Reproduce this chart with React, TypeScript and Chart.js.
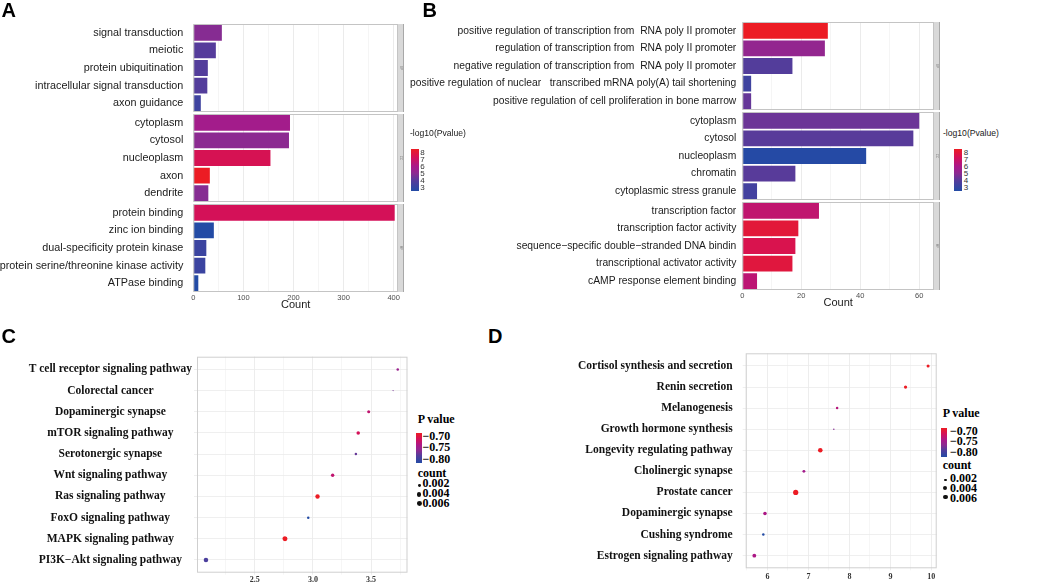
import React, { useEffect, useRef } from "react";
import { Chart, registerables } from "chart.js";
Chart.register(...registerables);

const SANS = "'Liberation Sans', Arial, Helvetica, sans-serif";
const SERIF = "'Liberation Serif', 'Times New Roman', Times, serif";

// ---------------- Panel A data ----------------
const aBPTerms = ["signal transduction", "meiotic", "protein ubiquitination", "intracellular signal transduction", "axon guidance"];
const aBPCounts = [57, 45, 29, 28, 15];
const aBPLogP = [5.0, 4.25, 4.2, 4.2, 3.7];
const aCCTerms = ["cytoplasm", "cytosol", "nucleoplasm", "axon", "dendrite"];
const aCCCounts = [193, 191, 154, 33, 30];
const aCCLogP = [5.75, 5.1, 7.1, 8.0, 5.0];
const aMFTerms = ["protein binding", "zinc ion binding", "dual-specificity protein kinase", "protein serine/threonine kinase activity", "ATPase binding"];
const aMFCounts = [402, 41, 26, 24, 10];
const aMFLogP = [7.0, 3.0, 3.6, 3.6, 3.0];
const aCountTicks = [0, 100, 200, 300, 400];

// ---------------- Panel B data ----------------
const bBPTerms = [
  "positive regulation of transcription from  RNA poly II promoter",
  "regulation of transcription from  RNA poly II promoter",
  "negative regulation of transcription from  RNA poly II promoter",
  "positive regulation of nuclear   transcribed mRNA poly(A) tail shortening",
  "positive regulation of cell proliferation in bone marrow",
];
const bBPCounts = [29, 28, 17, 3, 3];
const bBPLogP = [8.0, 5.3, 4.2, 3.7, 4.5];
const bCCTerms = ["cytoplasm", "cytosol", "nucleoplasm", "chromatin", "cytoplasmic stress granule"];
const bCCCounts = [60, 58, 42, 18, 5];
const bCCLogP = [4.6, 4.3, 3.05, 4.3, 3.8];
const bMFTerms = [
  "transcription factor",
  "transcription factor activity",
  "sequence\u2212specific double\u2212stranded DNA bindin",
  "transcriptional activator activity",
  "cAMP response element binding",
];
const bMFCounts = [26, 19, 18, 17, 5];
const bMFLogP = [6.5, 7.6, 7.2, 7.5, 6.4];
const bCountTicks = [0, 20, 40, 60];

// ---------------- Panel C data ----------------
const cTerms = [
  "T cell receptor signaling pathway",
  "Colorectal cancer",
  "Dopaminergic synapse",
  "mTOR signaling pathway",
  "Serotonergic synapse",
  "Wnt signaling pathway",
  "Ras signaling pathway",
  "FoxO signaling pathway",
  "MAPK signaling pathway",
  "PI3K\u2212Akt signaling pathway",
];
const cX = [3.73, 3.69, 3.48, 3.39, 3.37, 3.17, 3.04, 2.96, 2.76, 2.08];
const cP = [-0.75, -0.765, -0.73, -0.72, -0.77, -0.73, -0.7, -0.8, -0.7, -0.78];
const cCount = [0.0015, 0.0003, 0.0022, 0.003, 0.0015, 0.0028, 0.0047, 0.0015, 0.006, 0.005];
const cXTicks = [2.5, 3.0, 3.5];
const cXMinor = [2.25, 2.75, 3.25, 3.75];

// ---------------- Panel D data ----------------
const dTerms = [
  "Cortisol synthesis and secretion",
  "Renin secretion",
  "Melanogenesis",
  "Growth hormone synthesis",
  "Longevity regulating pathway",
  "Cholinergic synapse",
  "Prostate cancer",
  "Dopaminergic synapse",
  "Cushing syndrome",
  "Estrogen signaling pathway",
];
const dX = [9.92, 9.37, 7.7, 7.62, 7.29, 6.89, 6.69, 5.94, 5.9, 5.68];
const dP = [-0.7, -0.7, -0.735, -0.76, -0.7, -0.745, -0.7, -0.74, -0.8, -0.74];
const dCount = [0.0022, 0.0025, 0.0015, 0.0005, 0.005, 0.002, 0.0065, 0.003, 0.0015, 0.0035];
const dXTicks = [6, 7, 8, 9, 10];
const dXMinor = [5.5, 6.5, 7.5, 8.5, 9.5];

// ---------------- Legend data ----------------
const logPLegend = [8, 7, 6, 5, 4, 3];
const pLegend = [-0.7, -0.75, -0.8];
const countLegend = [0.002, 0.004, 0.006];

// ---------------- colour helpers ----------------
const RAMP: [number, number[]][] = [
  [0, [35, 75, 165]],
  [0.25, [85, 60, 155]],
  [0.42, [140, 42, 145]],
  [0.58, [168, 25, 138]],
  [0.8, [212, 17, 88]],
  [1, [236, 28, 36]],
];
function ramp(t: number): string {
  const u = Math.max(0, Math.min(1, t));
  for (let i = 1; i < RAMP.length; i++) {
    const [t1, c1] = RAMP[i];
    const [t0, c0] = RAMP[i - 1];
    if (u <= t1) {
      const f = (u - t0) / (t1 - t0);
      const c = c0.map((v, k) => Math.round(v + (c1[k] - v) * f));
      return `rgb(${c[0]},${c[1]},${c[2]})`;
    }
  }
  return "rgb(236,28,36)";
}
const logPColor = (v: number) => ramp((v - 3) / 5);
const pColor = (v: number) => ramp((v + 0.8) / 0.1);
const sizeOf = (c: number) => 2.6 * Math.sqrt(c / 0.0065);
const gradientCss = () =>
  "linear-gradient(to bottom, " +
  [1, 0.8, 0.58, 0.42, 0.25, 0].map((t) => `${ramp(t)} ${Math.round((1 - t) * 100)}%`).join(", ") +
  ")";

const framePlugin = (stripW: number, stripText: string, border: string) => ({
  id: "frame",
  afterDatasetsDraw(chart: any) {
    const { ctx, chartArea: a } = chart;
    ctx.save();
    ctx.strokeStyle = border;
    ctx.lineWidth = 1;
    ctx.strokeRect(a.left + 0.5, a.top + 0.5, a.right - a.left - 1, a.bottom - a.top - 1);
    if (stripW > 0) {
      ctx.fillStyle = "#d9d9d9";
      ctx.fillRect(a.right, a.top, stripW, a.bottom - a.top);
      ctx.strokeStyle = "#a8a8a8";
      ctx.beginPath();
      ctx.moveTo(a.right + stripW - 0.5, a.top);
      ctx.lineTo(a.right + stripW - 0.5, a.bottom);
      ctx.stroke();
      ctx.translate(a.right + stripW / 2, (a.top + a.bottom) / 2);
      ctx.rotate(Math.PI / 2);
      ctx.fillStyle = "#808080";
      ctx.font = `3px ${SANS}`;
      ctx.textAlign = "center";
      ctx.textBaseline = "middle";
      ctx.fillText(stripText, 0, 0);
    }
    ctx.restore();
  },
});

const noPad = (s: any) => {
  s.paddingTop = 0;
  s.paddingBottom = 0;
  s.paddingLeft = 0;
  s.paddingRight = 0;
};

type Box = { left: number; top: number; width: number; height: number };

type BarProps = {
  terms: string[];
  counts: number[];
  logp: number[];
  box: Box;
  yw: number;
  xmax: number;
  step: number;
  major: number[];
  showX: boolean;
  fontSize: number;
  pad: number;
  strip: string;
};

function BarFacet(p: BarProps) {
  const ref = useRef<HTMLCanvasElement>(null);
  useEffect(() => {
    const ticks: number[] = [];
    for (let v = 0; v <= p.xmax + 1e-9; v += p.step) ticks.push(v);
    const chart = new Chart(ref.current as HTMLCanvasElement, {
      type: "bar",
      data: {
        labels: p.terms,
        datasets: [
          {
            data: p.counts,
            backgroundColor: p.logp.map(logPColor),
            borderWidth: 0,
            barPercentage: 0.9,
            categoryPercentage: 1,
          },
        ],
      },
      options: {
        indexAxis: "y",
        animation: false,
        responsive: true,
        maintainAspectRatio: false,
        layout: { padding: { left: 0, right: 6, top: 0, bottom: 0 } },
        plugins: { legend: { display: false }, tooltip: { enabled: false } },
        scales: {
          x: {
            type: "linear",
            min: 0,
            max: p.xmax,
            afterBuildTicks: (s: any) => {
              s.ticks = ticks.map((v) => ({ value: v }));
            },
            ticks: {
              display: p.showX,
              autoSkip: false,
              maxRotation: 0,
              minRotation: 0,
              padding: 1,
              color: "#4d4d4d",
              font: { family: SANS, size: 7.5 },
              callback: (v: any) => (p.major.includes(Number(v)) ? String(v) : ""),
            },
            grid: {
              drawTicks: false,
              color: (c: any) => (p.major.includes(c.tick?.value) ? "#e6e6e6" : "#f2f2f2"),
              lineWidth: 0.8,
            },
            border: { display: false },
            title: {
              display: p.showX,
              text: "Count",
              color: "#1a1a1a",
              font: { family: SANS, size: 11 },
              padding: { top: 0, bottom: 4 },
            },
            afterFit: (s: any) => {
              noPad(s);
              s.height = p.showX ? 24 : 0;
            },
          },
          y: {
            ticks: {
              autoSkip: false,
              padding: p.pad,
              color: "#1a1a1a",
              font: { family: SANS, size: p.fontSize },
            },
            grid: { display: false, drawTicks: false },
            border: { display: false },
            afterFit: (s: any) => {
              noPad(s);
              s.width = p.yw;
            },
          },
        },
      } as any,
      plugins: [framePlugin(6, p.strip, "#c4c4c4")],
    });
    return () => chart.destroy();
  }, []);
  return (
    <div style={{ position: "absolute", ...p.box }}>
      <canvas ref={ref} />
    </div>
  );
}

type DotProps = {
  terms: string[];
  xs: number[];
  ps: number[];
  counts: number[];
  box: Box;
  padding: { top: number; right: number };
  yw: number;
  xh: number;
  xmin: number;
  xmax: number;
  major: number[];
  minor: number[];
  fmt: (v: number) => string;
  fontSize: number;
  cross: "near" | "center";
  pad: number;
  tickPad: number;
};

function DotPanel(p: DotProps) {
  const ref = useRef<HTMLCanvasElement>(null);
  useEffect(() => {
    const xticks = [...p.major, ...p.minor].sort((a, b) => a - b);
    const chart = new Chart(ref.current as HTMLCanvasElement, {
      type: "scatter",
      data: {
        datasets: [
          {
            data: p.xs.map((x, i) => ({ x, y: i })),
            pointRadius: p.counts.map(sizeOf),
            pointHoverRadius: p.counts.map(sizeOf),
            backgroundColor: p.ps.map(pColor),
            borderWidth: 0,
          },
        ],
      },
      options: {
        animation: false,
        responsive: true,
        maintainAspectRatio: false,
        layout: { padding: { left: 0, right: p.padding.right, top: p.padding.top, bottom: 0 } },
        plugins: { legend: { display: false }, tooltip: { enabled: false } },
        scales: {
          x: {
            type: "linear",
            min: p.xmin,
            max: p.xmax,
            afterBuildTicks: (s: any) => {
              s.ticks = xticks.map((v) => ({ value: v }));
            },
            ticks: {
              autoSkip: false,
              maxRotation: 0,
              minRotation: 0,
              padding: p.tickPad,
              color: "#333333",
              font: { family: SERIF, size: 8, weight: "bold" },
              callback: (v: any) => (p.major.includes(Number(v)) ? p.fmt(Number(v)) : ""),
            },
            grid: {
              drawTicks: true,
              tickLength: 2,
              color: (c: any) => (p.major.includes(c.tick?.value) ? "#e9e9e9" : "#f4f4f4"),
              lineWidth: 0.8,
            },
            border: { display: false },
            afterFit: (s: any) => {
              noPad(s);
              s.height = p.xh;
            },
          },
          y: {
            type: "linear",
            reverse: true,
            min: -0.6,
            max: p.terms.length - 1 + 0.6,
            afterBuildTicks: (s: any) => {
              s.ticks = p.terms.map((_, i) => ({ value: i }));
            },
            ticks: {
              autoSkip: false,
              padding: p.pad,
              crossAlign: p.cross,
              color: "#111111",
              font: { family: SERIF, size: p.fontSize, weight: "bold" },
              callback: (v: any) => p.terms[Number(v)] ?? "",
            },
            grid: { drawTicks: true, tickLength: 3, color: "#ebebeb", lineWidth: 0.8 },
            border: { display: false },
            afterFit: (s: any) => {
              noPad(s);
              s.width = p.yw;
            },
          },
        },
      } as any,
      plugins: [framePlugin(0, "", "#cfcfcf")],
    });
    return () => chart.destroy();
  }, []);
  return (
    <div style={{ position: "absolute", ...p.box }}>
      <canvas ref={ref} />
    </div>
  );
}

function Txt(props: {
  x: number;
  base: number;
  size: number;
  text: string;
  serif?: boolean;
  bold?: boolean;
  color?: string;
}) {
  const { x, base, size, text, serif, bold, color } = props;
  const k = serif ? 0.8375 : 0.8465;
  return (
    <div
      style={{
        position: "absolute",
        left: x,
        top: base - k * size,
        fontSize: size,
        lineHeight: `${size}px`,
        fontFamily: serif ? SERIF : SANS,
        fontWeight: bold ? 700 : 400,
        color: color ?? "#000",
        whiteSpace: "pre",
      }}
    >
      {text}
    </div>
  );
}

function LogPLegend({ x, barX }: { x: number; barX: number }) {
  const top = 149.3;
  const h = 41.8;
  return (
    <>
      <Txt x={x} base={136} size={8.6} text="-log10(Pvalue)" color="#1a1a1a" />
      <div style={{ position: "absolute", left: barX, top, width: 8, height: h, background: gradientCss() }} />
      {logPLegend.map((v, i) => (
        <Txt key={v} x={barX + 9.5} base={top + 3.5 + i * 7.05 + 2.9} size={8} text={String(v)} color="#333" />
      ))}
    </>
  );
}

function PValueLegend(props: {
  x: number;
  titleBase: number;
  barX: number;
  barTop: number;
  barH: number;
  labX: number;
  labBase: number[];
  countBase: number;
  dotX: number;
  dotY: number[];
  cntBase: number[];
}) {
  const p = props;
  return (
    <>
      <Txt x={p.x} base={p.titleBase} size={12} text="P value" serif bold />
      <div style={{ position: "absolute", left: p.barX, top: p.barTop, width: 6, height: p.barH, background: gradientCss() }} />
      {pLegend.map((v, i) => (
        <Txt key={v} x={p.labX} base={p.labBase[i]} size={12} text={"\u2212" + Math.abs(v).toFixed(2)} serif bold />
      ))}
      <Txt x={p.x} base={p.countBase} size={12} text="count" serif bold />
      {countLegend.map((c, i) => {
        const r = sizeOf(c);
        return (
          <div
            key={c}
            style={{
              position: "absolute",
              left: p.dotX - r,
              top: p.dotY[i] - r,
              width: 2 * r,
              height: 2 * r,
              borderRadius: "50%",
              background: "#111",
            }}
          />
        );
      })}
      {countLegend.map((c, i) => (
        <Txt key={"l" + c} x={p.labX} base={p.cntBase[i]} size={12} text={c.toFixed(3)} serif bold />
      ))}
    </>
  );
}

export default function App() {
  return (
    <div
      style={{
        position: "fixed",
        left: 0,
        top: 0,
        width: 1052,
        height: 583,
        background: "#fff",
        overflow: "hidden",
      }}
    >
      {/* Panel B */}
      <BarFacet terms={bBPTerms} counts={bBPCounts} logp={bBPLogP} box={{ left: 395, top: 22, width: 545, height: 88 }} yw={347.3} xmax={65} step={10} major={bCountTicks} showX={false} fontSize={10.3} pad={6} strip="BP" />
      <BarFacet terms={bCCTerms} counts={bCCCounts} logp={bCCLogP} box={{ left: 395, top: 112, width: 545, height: 88 }} yw={347.3} xmax={65} step={10} major={bCountTicks} showX={false} fontSize={10.3} pad={6} strip="CC" />
      <BarFacet terms={bMFTerms} counts={bMFCounts} logp={bMFLogP} box={{ left: 395, top: 202, width: 545, height: 112 }} yw={347.3} xmax={65} step={10} major={bCountTicks} showX={true} fontSize={10.3} pad={6} strip="MF" />
      <LogPLegend x={943} barX={954.3} />

      {/* Panel A */}
      <BarFacet terms={aBPTerms} counts={aBPCounts} logp={aBPLogP} box={{ left: 0, top: 24, width: 404, height: 88 }} yw={193.3} xmax={408.6} step={50} major={aCountTicks} showX={false} fontSize={10.8} pad={10} strip="BP" />
      <BarFacet terms={aCCTerms} counts={aCCCounts} logp={aCCLogP} box={{ left: 0, top: 114, width: 404, height: 88 }} yw={193.3} xmax={408.6} step={50} major={aCountTicks} showX={false} fontSize={10.8} pad={10} strip="CC" />
      <BarFacet terms={aMFTerms} counts={aMFCounts} logp={aMFLogP} box={{ left: 0, top: 204, width: 404, height: 112 }} yw={193.3} xmax={408.6} step={50} major={aCountTicks} showX={true} fontSize={10.8} pad={10} strip="MF" />
      <LogPLegend x={410} barX={410.7} />

      {/* Panel C */}
      <DotPanel terms={cTerms} xs={cX} ps={cP} counts={cCount} box={{ left: 0, top: 345, width: 410, height: 238 }} padding={{ top: 11.7, right: 2 }} yw={197} xh={10.3} xmin={2.003} xmax={3.814} major={cXTicks} minor={cXMinor} fmt={(v) => v.toFixed(1)} fontSize={11.5} cross="center" pad={2} tickPad={0} />
      <PValueLegend x={417.7} titleBase={423.3} barX={415.7} barTop={433.3} barH={29.4} labX={422.5} labBase={[440.3, 451, 462.7]} countBase={476.7} dotX={419.3} dotY={[485.5, 494.5, 503.5]} cntBase={[487.3, 497.3, 507.3]} />

      {/* Panel D */}
      <DotPanel terms={dTerms} xs={dX} ps={dP} counts={dCount} box={{ left: 520, top: 340, width: 420, height: 243 }} padding={{ top: 13.3, right: 3.3 }} yw={225.7} xh={14.7} xmin={5.47} xmax={10.13} major={dXTicks} minor={dXMinor} fmt={(v) => String(v)} fontSize={11.5} cross="near" pad={10} tickPad={1.5} />
      <PValueLegend x={942.7} titleBase={417.3} barX={941} barTop={428.3} barH={28.4} labX={950} labBase={[434.7, 445, 456.3]} countBase={469.4} dotX={945.3} dotY={[480, 488, 497]} cntBase={[481.7, 491.7, 502]} />

      {/* Panel letters */}
      <Txt x={1.5} base={17.3} size={20} text="A" bold />
      <Txt x={422.5} base={17.3} size={20} text="B" bold />
      <Txt x={1.5} base={343.3} size={20} text="C" bold />
      <Txt x={488} base={343.3} size={20} text="D" bold />
    </div>
  );
}
